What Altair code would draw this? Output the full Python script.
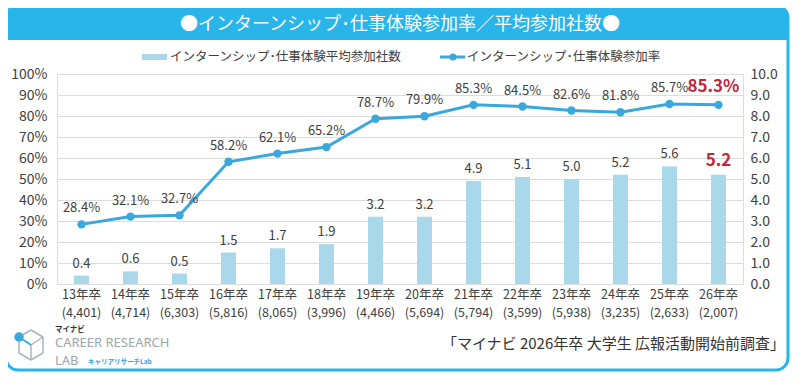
import altair as alt
import pandas as pd

# ---- data ----
years = ["13年卒", "14年卒", "15年卒", "16年卒", "17年卒", "18年卒", "19年卒",
         "20年卒", "21年卒", "22年卒", "23年卒", "24年卒", "25年卒", "26年卒"]
samples = ["4,401", "4,714", "6,303", "5,816", "8,065", "3,996", "4,466",
           "5,694", "5,794", "3,599", "5,938", "3,235", "2,633", "2,007"]
rates = [28.4, 32.1, 32.7, 58.2, 62.1, 65.2, 78.7, 79.9, 85.3, 84.5, 82.6, 81.8, 85.7, 85.3]
counts = [0.4, 0.6, 0.5, 1.5, 1.7, 1.9, 3.2, 3.2, 4.9, 5.1, 5.0, 5.2, 5.6, 5.2]
left_ticks = [0, 0.1, 0.2, 0.3, 0.4, 0.5, 0.6, 0.7, 0.8, 0.9, 1.0]
right_ticks = [0, 1, 2, 3, 4, 5, 6, 7, 8, 9, 10]

title_text = "●インターンシップ･仕事体験参加率／平均参加社数●"
legend_bar = "インターンシップ･仕事体験平均参加社数"
legend_line = "インターンシップ･仕事体験参加率"
source_text = "「マイナビ 2026年卒 大学生 広報活動開始前調査」"

df = pd.DataFrame({
    "year": years,
    "n": [f"({s})" for s in samples],
    "rate": [r / 100 for r in rates],
    "count": counts,
    "last": [i == len(years) - 1 for i in range(len(years))],
})

FONT = "Noto Sans CJK JP"
BLUE = "#29B5E9"
LINE = "#3AA8DC"
BAR = "#A8D8EA"
RED = "#C0283C"
TXT = "#404040"

W, H = 686, 210

xenc = alt.X(
    "year:N", sort=years,
    scale=alt.Scale(paddingInner=0, paddingOuter=0),
    axis=alt.Axis(title=None, labelAngle=0,
                  labelFontSize=12.5, labelColor=TXT, labelPadding=4,
                  ticks=False, domain=False, labelFont=FONT, labelBaseline="top",
                  labelOverlap=False, labelBound=False),
)

yleft_scale = alt.Scale(domain=[0, 1])
yright_scale = alt.Scale(domain=[0, 10])

base = alt.Chart(df)

bars = base.mark_bar(size=15, color=BAR).encode(
    x=xenc,
    y=alt.Y("count:Q", scale=yright_scale,
            axis=alt.Axis(orient="right", title=None, format=".1f", values=right_ticks,
                          grid=False, ticks=False, domain=False, labelFontSize=14,
                          labelColor=TXT, labelPadding=7, labelFont=FONT)),
)

# second line of the category labels: sample sizes
n_labels = base.mark_text(baseline="top", fontSize=12.5, color=TXT, font=FONT).encode(
    x=xenc, y=alt.value(H + 23), text="n:N")

bar_labels = base.transform_filter("!datum.last").mark_text(
    baseline="bottom", dy=-5, fontSize=13, color=TXT, font=FONT
).encode(x=xenc, y=alt.Y("count:Q", scale=yright_scale, axis=None),
         text=alt.Text("count:Q", format=".1f"))

bar_label_last = base.transform_filter("datum.last").mark_text(
    baseline="bottom", dy=-5, fontSize=17, fontWeight="bold", color=RED, font=FONT
).encode(x=xenc, y=alt.Y("count:Q", scale=yright_scale, axis=None),
         text=alt.Text("count:Q", format=".1f"))

line = base.mark_line(
    color=LINE, strokeWidth=3,
    point=alt.OverlayMarkDef(filled=True, size=70, color=LINE),
).encode(
    x=xenc,
    y=alt.Y("rate:Q", scale=yleft_scale,
            axis=alt.Axis(orient="left", title=None, format=".0%", values=left_ticks,
                          grid=True, gridColor="#dcdcdc", ticks=False, domain=False,
                          labelFontSize=14, labelColor=TXT, labelPadding=10, labelFont=FONT)),
)

line_labels = base.transform_filter("!datum.last").mark_text(
    baseline="bottom", dy=-9, fontSize=13, color=TXT, font=FONT
).encode(x=xenc, y=alt.Y("rate:Q", scale=yleft_scale, axis=None),
         text=alt.Text("rate:Q", format=".1%"))

line_label_last = base.transform_filter("datum.last").mark_text(
    baseline="bottom", dy=-9, dx=-5, fontSize=17, fontWeight="bold", color=RED, font=FONT
).encode(x=xenc, y=alt.Y("rate:Q", scale=yleft_scale, axis=None),
         text=alt.Text("rate:Q", format=".1%"))

# ---- decorations (frame, title banner, legend, logo, source) ----
one = pd.DataFrame({"d": [0]})


def deco():
    return alt.Chart(one)


frame = deco().mark_rect(fillOpacity=0, stroke=BLUE, strokeWidth=3, cornerRadius=12).encode(
    x=alt.value(-51), x2=alt.value(731), y=alt.value(-68), y2=alt.value(296))
banner = deco().mark_rect(fill=BLUE, cornerRadiusTopLeft=12, cornerRadiusTopRight=12).encode(
    x=alt.value(-52), x2=alt.value(732), y=alt.value(-69), y2=alt.value(-34))
title = deco().mark_text(text=title_text, fontSize=18, color="white", font=FONT,
                         align="center", baseline="middle").encode(
    x=alt.value(343), y=alt.value(-49))

leg_swatch = deco().mark_rect(fill=BAR).encode(
    x=alt.value(85), x2=alt.value(110), y=alt.value(-20), y2=alt.value(-14))
leg_bar_txt = deco().mark_text(text=legend_bar, fontSize=12.5, color=TXT, font=FONT,
                               align="left", baseline="middle").encode(
    x=alt.value(113), y=alt.value(-17))
leg_line = deco().mark_rule(color=LINE, strokeWidth=3).encode(
    x=alt.value(383), x2=alt.value(408), y=alt.value(-17))
leg_dot = deco().mark_circle(color=LINE, size=50, opacity=1).encode(
    x=alt.value(396), y=alt.value(-17))
leg_line_txt = deco().mark_text(text=legend_line, fontSize=12.5, color=TXT, font=FONT,
                                align="left", baseline="middle").encode(
    x=alt.value(410), y=alt.value(-17))

source = deco().mark_text(text=source_text, fontSize=15, color="#333333", font=FONT,
                          align="right", baseline="middle").encode(
    x=alt.value(728), y=alt.value(270))

logo_small = deco().mark_text(text="マイナビ", fontSize=7.5, fontWeight="bold", color="#333333",
                              font=FONT, align="left", baseline="middle").encode(
    x=alt.value(-2), y=alt.value(256))
logo_main = deco().mark_text(text="CAREER RESEARCH", fontSize=13, color="#9BA6AE",
                             font="Noto Sans", align="left", baseline="middle").encode(
    x=alt.value(-2), y=alt.value(269))
logo_lab = deco().mark_text(text="LAB", fontSize=13, color="#9BA6AE", font="Noto Sans",
                            align="left", baseline="middle").encode(
    x=alt.value(-2), y=alt.value(287))
logo_sub = deco().mark_text(text="キャリアリサーチLab", fontSize=6.5, fontWeight="bold",
                            color="#2BA3DB", font=FONT, align="left", baseline="middle").encode(
    x=alt.value(31), y=alt.value(288))

T, UR, LR, B, LL, UL, C = (-26, 256), (-14, 263), (-14, 279), (-26, 286), (-38, 279), (-38, 263), (-26, 271)
edges = [(T, UR), (UR, LR), (LR, B), (B, LL), (LL, UL), (UL, T), (C, UR), (C, B)]
icon = []
for (a, b) in edges:
    icon.append(deco().mark_rule(color="#A9B4BC", strokeWidth=1.5).encode(
        x=alt.value(a[0]), y=alt.value(a[1]), x2=alt.value(b[0]), y2=alt.value(b[1])))
icon.append(deco().mark_rule(color=LINE, strokeWidth=2).encode(
    x=alt.value(UL[0]), y=alt.value(UL[1]), x2=alt.value(C[0]), y2=alt.value(C[1])))
icon.append(deco().mark_circle(color=LINE, size=90, opacity=1).encode(
    x=alt.value(UL[0]), y=alt.value(UL[1])))

chart = alt.layer(
    frame, banner, title,
    bars, n_labels, bar_labels, bar_label_last,
    line, line_labels, line_label_last,
    leg_swatch, leg_bar_txt, leg_line, leg_dot, leg_line_txt,
    source, logo_small, logo_main, logo_lab, logo_sub, *icon,
).resolve_scale(y="independent").properties(
    width=W, height=H,
    padding={"left": 49, "top": 66, "right": 49, "bottom": 92},
    autosize=alt.AutoSizeParams(type="none"),
).configure_view(stroke="#cfcfcf", strokeWidth=1).configure(background="white")

chart.save("out.html", embed_options={"renderer": "svg", "actions": False})
